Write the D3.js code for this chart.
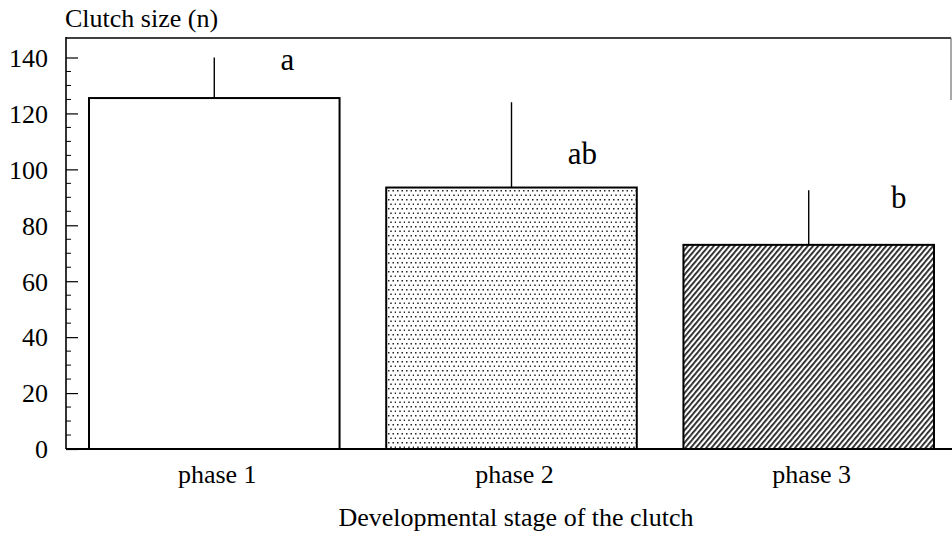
<!DOCTYPE html>
<html><head><meta charset="utf-8">
<script src="https://cdn.jsdelivr.net/npm/d3@7"></script>
<style>body{margin:0;background:#fff}svg{display:block}</style>
</head><body><svg id="c" width="952" height="540"></svg>
<script>
const categories = ["phase 1", "phase 2", "phase 3"];
const means = [125.5, 93.5, 73];
const errTops = [140, 124, 92.5];
const sigLetters = ["a", "ab", "b"];
const yTicks = [0, 20, 40, 60, 80, 100, 120, 140];
const fills = ["none", "dots", "hatch"];

const svg = d3.select("#c");
const font = "'Liberation Serif','Times New Roman',serif";
const x0 = 66, x1 = 951, yBottom = 449, yTopFrame = 38;
const y = d3.scaleLinear().domain([0, 140]).range([yBottom, 57.5]);
const x = d3.scaleBand().domain(categories).range([89, 934]).paddingInner(0.157).paddingOuter(0);

const defs = svg.append("defs");
const pd = defs.append("pattern").attr("id","dots").attr("patternUnits","userSpaceOnUse").attr("width",9).attr("height",9);
pd.append("rect").attr("width",9).attr("height",9).attr("fill","#fff");
[[1,1],[5.5,1],[3.25,5.5],[7.75,5.5]].forEach(([a,b])=>pd.append("rect").attr("x",a).attr("y",b).attr("width",1.5).attr("height",1.5).attr("fill","#222"));
const ph = defs.append("pattern").attr("id","hatch").attr("patternUnits","userSpaceOnUse").attr("width",4).attr("height",4).attr("patternTransform","rotate(40)");
ph.append("rect").attr("width",4).attr("height",4).attr("fill","#fff");
ph.append("rect").attr("x",0).attr("y",0).attr("width",1.8).attr("height",4).attr("fill","#222");

// frame top and right
svg.append("line").attr("x1",x0).attr("x2",x1).attr("y1",yTopFrame).attr("y2",yTopFrame).attr("stroke","#000").attr("stroke-width",1.6);
svg.append("line").attr("x1",x1).attr("x2",x1).attr("y1",yTopFrame).attr("y2",100).attr("stroke","#555").attr("stroke-width",1);

// y axis minor ticks
const minor = d3.range(0, 141, 5).filter(v => v % 20 !== 0);
svg.selectAll(".mt").data(minor).enter().append("line")
  .attr("x1",x0).attr("x2",x0+5).attr("y1",d=>y(d)).attr("y2",d=>y(d)).attr("stroke","#000").attr("stroke-width",1);
const ya = d3.axisLeft(y).tickValues(yTicks).tickSize(-12).tickPadding(18);
const g = svg.append("g").attr("transform",`translate(${x0},0)`).call(ya);
g.select(".domain").remove();
g.selectAll(".tick line").attr("stroke","#000").attr("stroke-width",1.2);
g.selectAll(".tick text").attr("font-family",font).attr("font-size",26).attr("fill","#000").attr("dy","0.34em");
svg.append("line").attr("x1",x0).attr("x2",x0).attr("y1",yTopFrame-1).attr("y2",yBottom).attr("stroke","#000").attr("stroke-width",1.6);

// bars
const data = categories.map((c,i)=>({c, m:means[i], e:errTops[i], l:sigLetters[i], f:fills[i]}));
svg.selectAll(".err").data(data).enter().append("line")
  .attr("x1",d=>x(d.c)+x.bandwidth()/2).attr("x2",d=>x(d.c)+x.bandwidth()/2)
  .attr("y1",d=>y(d.m)).attr("y2",d=>y(d.e)).attr("stroke","#000").attr("stroke-width",1.4);
svg.selectAll(".bar").data(data).enter().append("rect")
  .attr("x",d=>x(d.c)).attr("y",d=>y(d.m)).attr("width",x.bandwidth()).attr("height",d=>yBottom-y(d.m))
  .attr("fill",d=>d.f==="none"?"#fff":`url(#${d.f})`).attr("stroke","#000").attr("stroke-width",2);

// bottom axis
svg.append("line").attr("x1",x0).attr("x2",952).attr("y1",yBottom).attr("y2",yBottom).attr("stroke","#000").attr("stroke-width",2);

// significance letters
const letterDx = [73, 71, 90];
const letterBase = [70, 164, 208];
svg.selectAll(".let").data(data).enter().append("text")
  .attr("x",(d,i)=>x(d.c)+x.bandwidth()/2+letterDx[i])
  .attr("y",(d,i)=>letterBase[i])
  .attr("text-anchor","middle").attr("font-family",font).attr("font-size",31).text(d=>d.l);

// x labels
svg.selectAll(".xl").data(data).enter().append("text")
  .attr("x",d=>x(d.c)+x.bandwidth()/2+3).attr("y",483).attr("text-anchor","middle")
  .attr("font-family",font).attr("font-size",26).text(d=>d.c);
svg.append("text").attr("x",516).attr("y",526).attr("text-anchor","middle").attr("font-family",font).attr("font-size",26).text("Developmental stage of the clutch");
svg.append("text").attr("x",65).attr("y",27).attr("font-family",font).attr("font-size",26).text("Clutch size (n)");
</script></body></html>
